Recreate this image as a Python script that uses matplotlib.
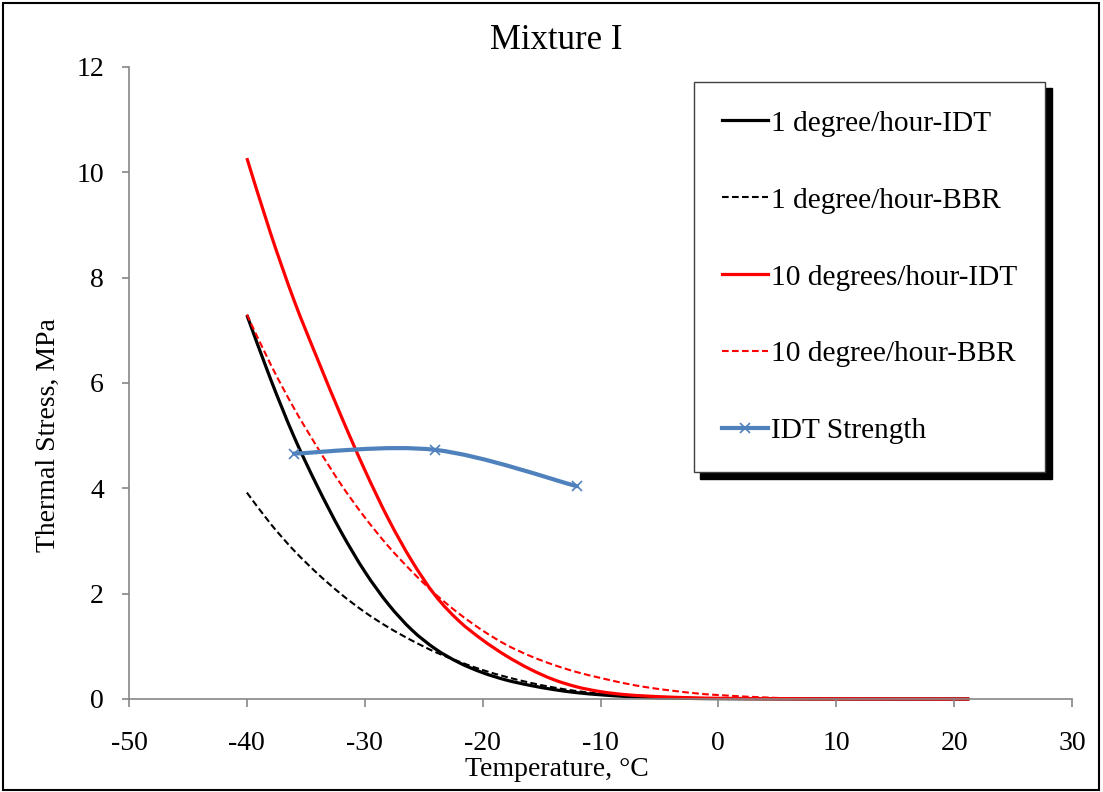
import matplotlib.pyplot as plt
import numpy as np
from matplotlib.path import Path
from matplotlib.patches import PathPatch, Rectangle
from matplotlib.lines import Line2D

plt.rcParams['font.family'] = ['Liberation Serif', 'DejaVu Serif']
plt.rcParams['axes.unicode_minus'] = False

# temperatures (°C) where the thermal stress curves were read
temp = [-40, -38, -36, -34, -32, -30, -28, -26, -24, -22, -20, -18, -16,
        -14, -12, -10, -8, -6, -4, -2, 0, 5, 10, 15, 21.3]

# thermal stress, MPa
idt_1deg = [7.29, 6.08, 4.98, 4.03, 3.17, 2.42, 1.80, 1.31, 0.95, 0.69, 0.50,
            0.36, 0.26, 0.18, 0.12, 0.08, 0.05, 0.03, 0.018, 0.01, 0.006,
            0.002, 0.001, 0.0, 0.0]
bbr_1deg = [3.92, 3.33, 2.82, 2.38, 1.99, 1.65, 1.36, 1.11, 0.89, 0.71, 0.55,
            0.42, 0.31, 0.22, 0.15, 0.10, 0.065, 0.042, 0.028, 0.018, 0.012,
            0.004, 0.001, 0.0, 0.0]
idt_10deg = [10.27, 8.85, 7.57, 6.45, 5.37, 4.35, 3.42, 2.62, 1.96, 1.48, 1.12,
             0.82, 0.57, 0.37, 0.23, 0.14, 0.085, 0.055, 0.035, 0.022, 0.014,
             0.006, 0.002, 0.001, 0.0]
bbr_10deg = [7.30, 6.36, 5.52, 4.77, 4.07, 3.45, 2.90, 2.42, 1.99, 1.62, 1.30,
             1.03, 0.82, 0.65, 0.51, 0.40, 0.30, 0.22, 0.16, 0.11, 0.075,
             0.02, 0.005, 0.001, 0.0]

# IDT strength
strength_t = [-36, -24, -12]
strength_s = [4.66, 4.73, 4.04]

labels = ["1 degree/hour-IDT", "1 degree/hour-BBR", "10 degrees/hour-IDT",
          "10 degree/hour-BBR", "IDT Strength"]

blue = "#4F81BD"
gray = "#868686"
dash = (0, (3.2, 1.6))


def smooth_path(x, y):
    # Excel-like smoothed line: cubic bezier through every point
    pts = np.column_stack([x, y])
    ext = np.vstack([pts[0], pts, pts[-1]])
    verts = [pts[0]]
    codes = [Path.MOVETO]
    for i in range(len(pts) - 1):
        p0, p1, p2, p3 = ext[i], ext[i + 1], ext[i + 2], ext[i + 3]
        verts += [p1 + (p2 - p0) / 6, p2 - (p3 - p1) / 6, p2]
        codes += [Path.CURVE4] * 3
    return Path(verts, codes)


fig = plt.figure(figsize=(11.03, 7.92), dpi=100)
ax = fig.add_axes([129 / 1103, 1 - 699 / 792, 943 / 1103, 632 / 792])

series = [
    (idt_1deg, "black", 2.3, "solid"),
    (bbr_1deg, "black", 1.5, dash),
    (idt_10deg, "red", 2.3, "solid"),
    (bbr_10deg, "red", 1.5, dash),
]
handles = []
for vals, color, lw, ls in series:
    ax.add_patch(PathPatch(smooth_path(temp, vals), fill=False,
                           edgecolor=color, lw=lw, ls=ls, clip_on=False))
    handles.append(Line2D([], [], color=color, lw=lw, ls=ls))

ax.add_patch(PathPatch(smooth_path(strength_t, strength_s), fill=False,
                       edgecolor=blue, lw=3, capstyle="round"))
ax.plot(strength_t, strength_s, ls="none", marker="x", ms=7, mew=1.2,
        color=blue)
handles.append(Line2D([], [], color=blue, lw=3, marker="x", ms=7, mew=1.2))

ax.set_xlim(-50, 30)
ax.set_ylim(0, 12)
ax.set_xticks(np.arange(-50, 31, 10))
ax.set_yticks(np.arange(0, 13, 2))

for side in ["top", "right"]:
    ax.spines[side].set_visible(False)
for side in ["left", "bottom"]:
    ax.spines[side].set_color(gray)
    ax.spines[side].set_linewidth(1.2)
ax.tick_params(axis="x", direction="out", length=6, width=1.2, color=gray,
               labelsize=20, pad=17)
ax.tick_params(axis="y", direction="out", length=5, width=1.2, color=gray,
               labelsize=20, pad=13)

ax.set_xlabel("Temperature, °C", fontsize=20)
ax.xaxis.set_label_coords((557 - 129) / 943, -(757 - 699) / 632)
ax.set_ylabel("Thermal Stress, MPa", fontsize=20)
ax.yaxis.set_label_coords((61 - 129) / 943, (699 - 435) / 632)

fig.text(556 / 1103, 1 - 49 / 792, "Mixture I", ha="center", va="baseline",
         fontsize=25)

leg = ax.legend(handles, labels, loc="upper left",
                bbox_to_anchor=((694 - 129) / 943, (699 - 82) / 632),
                borderaxespad=0, fontsize=21.2, labelspacing=1.71,
                borderpad=0.95, handlelength=1.55, handletextpad=0.12,
                fancybox=False, framealpha=1,
                shadow={"ox": 4.5, "oy": -4.5, "color": "black", "alpha": 1})
leg.get_frame().set_edgecolor("#404040")
leg.get_frame().set_linewidth(1)

fig.patches.append(Rectangle((3 / 1103, 2 / 792), 1096 / 1103, 787 / 792,
                             transform=fig.transFigure, fill=False,
                             edgecolor="black", lw=1.5))

fig.savefig("out.png", dpi=100)
